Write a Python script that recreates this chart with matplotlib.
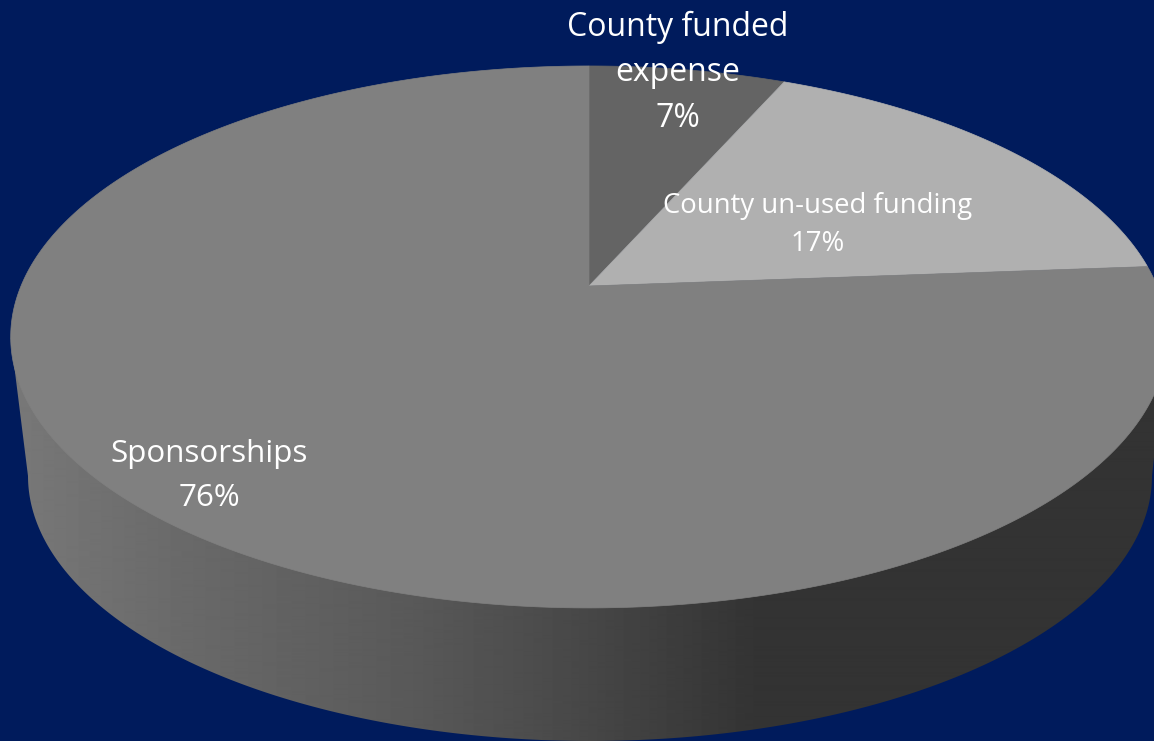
import numpy as np
import matplotlib
matplotlib.use("Agg")
import matplotlib.pyplot as plt
from matplotlib.patches import Polygon

categories = ["County funded\nexpense", "County un-used funding", "Sponsorships"]
values = [6.6, 17.2, 76.2]

BG = "#001b5c"
SLICE_COLORS = ["#646464", "#b0b0b0", "#808080"]
TEXT_POS = [(678, 72.5), (818, 225), (209, 476)]
TEXT_SIZE = [23, 19.8, 22.6]
LINE_SPACING = [1.5, 1.5, 1.63]

# Perspective projection of the unit disc on the canvas (pixel axes)
CX, CY, A, B, K = 589, 286, 568, 261.4, 0.188


def project(u, v):
    d = 1 + K * v
    return CX + A * u / d, CY - B * v / d


fig = plt.figure(figsize=(11.54, 7.41), dpi=100, facecolor=BG)
ax = fig.add_axes([0, 0, 1, 1])
ax.set_facecolor(BG)
ax.set_axis_off()

# Side wall: top-rim to bottom-rim hull with a horizontal shading
th = np.linspace(0, 2 * np.pi, 721)
tx, ty = project(np.sin(th), np.cos(th))
left_i, right_i = np.argmin(tx), np.argmax(tx)
t2 = np.linspace(np.pi, 2 * np.pi, 361)
bx = 590 + 562 * np.cos(t2)
by = 476 - 265 * np.sin(t2)
hull = np.column_stack([
    np.r_[tx[left_i], bx, tx[right_i]],
    np.r_[ty[left_i], by, ty[right_i]],
])
xs = np.arange(0, 1155)
shade = np.interp(xs, [15, 200, 400, 560, 760, 1154], [0x78, 0x68, 0x5a, 0x4a, 0x33, 0x33])
grad = np.tile(shade[None, :], (2, 1)) / 255.0
wall = ax.imshow(grad, cmap="gray", vmin=0, vmax=1, extent=(0, 1155, 741, 0),
                 aspect="auto", interpolation="bilinear", zorder=1)
clip = Polygon(hull, closed=True, transform=ax.transData, fc="none", ec="none")
ax.add_patch(clip)
wall.set_clip_path(clip)

# Top face: slices run clockwise from 12 o'clock
edges = np.r_[0, np.cumsum(values)] / np.sum(values) * 2 * np.pi
for i, (a0, a1) in enumerate(zip(edges[:-1], edges[1:])):
    t = np.linspace(a0, a1, 400)
    px, py = project(np.sin(t), np.cos(t))
    ax.fill(np.r_[CX, px], np.r_[CY, py], color=SLICE_COLORS[i], lw=0.5, zorder=2)

for i, (cat, val) in enumerate(zip(categories, values)):
    ax.text(*TEXT_POS[i], f"{cat}\n{round(val)}%", color="white", ha="center", va="center",
            family="Open Sans", fontsize=TEXT_SIZE[i], linespacing=LINE_SPACING[i], zorder=3)

ax.set_xlim(0, 1154)
ax.set_ylim(741, 0)
fig.savefig("out.png", dpi=100, facecolor=BG)
